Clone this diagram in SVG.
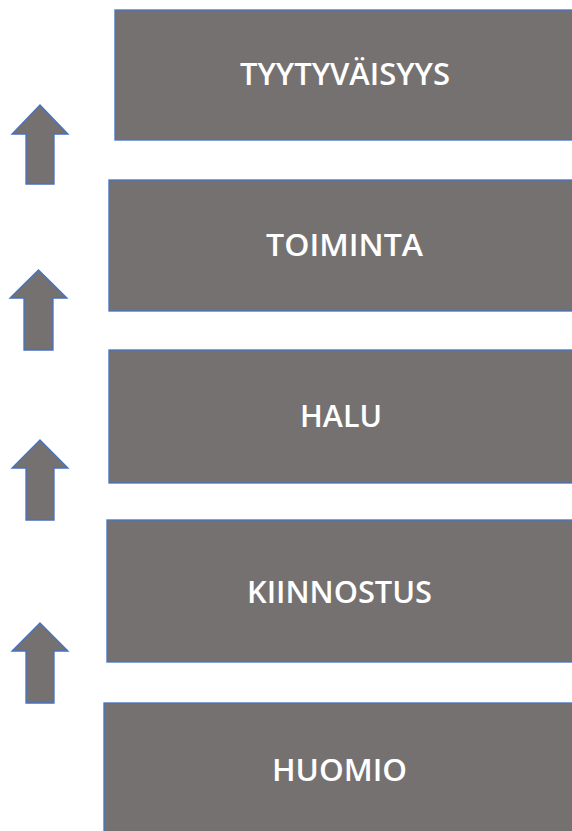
<svg xmlns="http://www.w3.org/2000/svg" width="572" height="831" viewBox="0 0 572 831">
<style>
.box{fill:#767171;stroke:#4472C4;stroke-width:1.3}
.arr{fill:#767171;stroke:#4472C4;stroke-width:1.3;stroke-linejoin:miter}
.lbl{fill:#ffffff;font-family:"Open Sans","Liberation Sans",sans-serif;font-weight:600;font-size:30px;text-anchor:middle}
</style>
<rect width="572" height="831" fill="#ffffff"/>
<g id="connectors">
<polygon class="arr" points="40,105 68,134 54,134 54,184 26,184 26,134 12,134"/>
<polygon class="arr" points="38.5,270 67,298 53,298 53,350 24,350 24,298 10,298"/>
<polygon class="arr" points="40,440 68,468 54,468 54,520 26,520 26,468 12,468"/>
<polygon class="arr" points="40,623 68,651 54,651 54,703 26,703 26,651 12,651"/>
</g>
<g id="tyytyvaisyys">
<rect class="box" x="115" y="10" width="470" height="130"/>
<text class="lbl" x="345" y="85" textLength="210" lengthAdjust="spacingAndGlyphs">TYYTYVÄISYYS</text>
</g>
<g id="toiminta">
<rect class="box" x="109" y="180" width="476" height="131"/>
<text class="lbl" x="344.5" y="256" textLength="157" lengthAdjust="spacingAndGlyphs">TOIMINTA</text>
</g>
<g id="halu">
<rect class="box" x="109" y="350" width="476" height="133"/>
<text class="lbl" x="341" y="427" textLength="82" lengthAdjust="spacingAndGlyphs">HALU</text>
</g>
<g id="kiinnostus">
<rect class="box" x="107" y="520" width="478" height="142"/>
<text class="lbl" x="339.5" y="603" textLength="185" lengthAdjust="spacingAndGlyphs">KIINNOSTUS</text>
</g>
<g id="huomio">
<rect class="box" x="104" y="703" width="481" height="140"/>
<text class="lbl" x="339.5" y="781" textLength="135" lengthAdjust="spacingAndGlyphs">HUOMIO</text>
</g>
</svg>
